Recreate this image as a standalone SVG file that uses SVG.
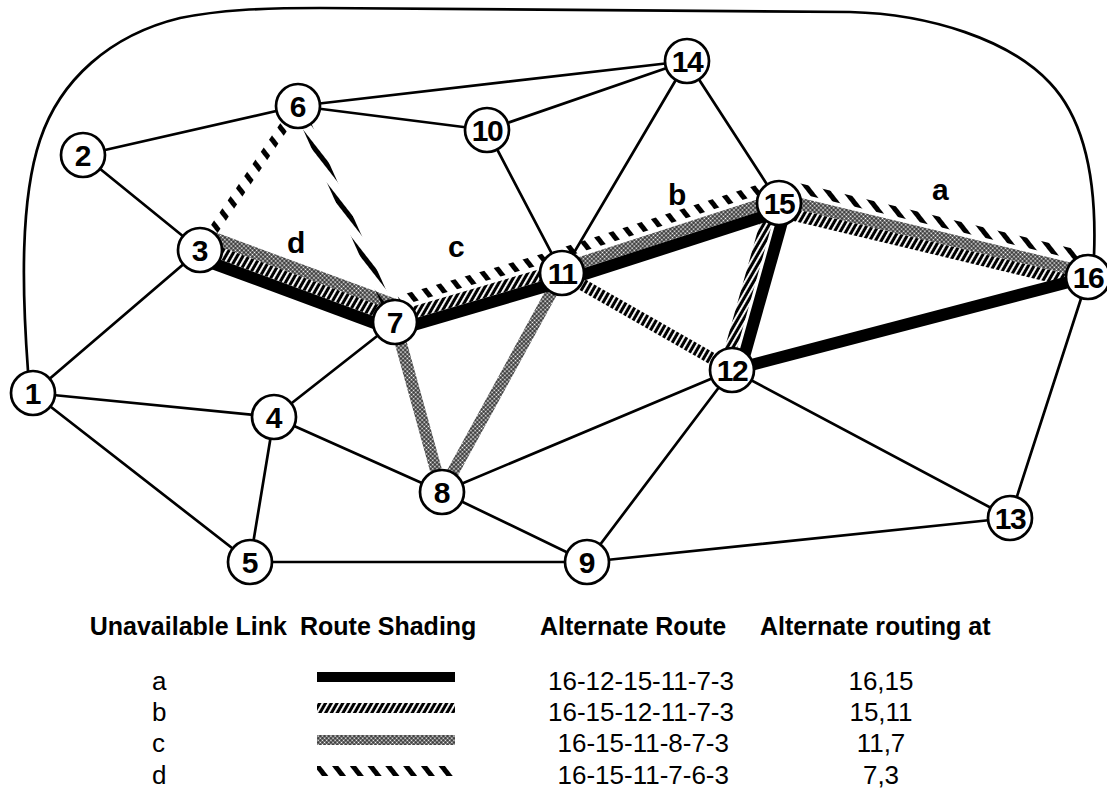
<svg xmlns="http://www.w3.org/2000/svg" width="1107" height="791" viewBox="0 0 1107 791">
<defs>
<style>
.ln{stroke:#000;stroke-width:2.7;fill:none;stroke-linecap:round}
.ra{stroke:#000;stroke-width:12}
.rb{stroke:url(#hatch);stroke-width:12}
.rc{stroke:url(#check);stroke-width:12}
.rd{stroke:url(#stripe);stroke-width:10}
.nd circle{fill:#fff;stroke:#000;stroke-width:2.7}
.nd text{font-family:'Liberation Sans',Arial,sans-serif;font-weight:bold;font-size:30px;text-anchor:middle}
.lbl{font-family:'Liberation Sans',Arial,sans-serif;font-weight:bold;font-size:30px}
.hd{font-family:'Liberation Sans',Arial,sans-serif;font-weight:bold;font-size:25px}
.tx{font-family:'Liberation Sans',Arial,sans-serif;font-size:26px}
</style>
<pattern id="hatch" patternUnits="userSpaceOnUse" width="5" height="5" patternTransform="rotate(30)">
<rect width="5" height="5" fill="#000"/>
<rect x="0" y="0" width="1.9" height="5" fill="#fff"/>
</pattern>
<pattern id="check" patternUnits="userSpaceOnUse" width="3" height="3" patternTransform="rotate(45)">
<rect width="3" height="3" fill="#000"/>
<rect x="0.5" y="0.5" width="2" height="2" fill="#fff"/>
</pattern>
<pattern id="stripe" patternUnits="userSpaceOnUse" width="14" height="14" patternTransform="rotate(-38)">
<rect width="5" height="14" fill="#000"/>
</pattern>
</defs>
<rect width="1107" height="791" fill="#fff"/>
<g id="connectors">
<path class="ln" d="M28,371 C22,290 20,200 40,140 C60,80 110,35 180,18 C220,10 260,8 320,8 L850,12 C930,14 1010,40 1050,83 C1085,120 1097,180 1094,256"/>
<line class="ln" x1="33" y1="393" x2="200" y2="250"/>
<line class="ln" x1="33" y1="393" x2="274" y2="417"/>
<line class="ln" x1="33" y1="393" x2="250" y2="562"/>
<line class="ln" x1="83" y1="155" x2="200" y2="250"/>
<line class="ln" x1="83" y1="155" x2="298" y2="106"/>
<line class="ln" x1="274" y1="417" x2="250" y2="562"/>
<line class="ln" x1="274" y1="417" x2="395" y2="322"/>
<line class="ln" x1="274" y1="417" x2="442" y2="492"/>
<line class="ln" x1="250" y1="562" x2="587" y2="562"/>
<line class="ln" x1="442" y1="492" x2="587" y2="562"/>
<line class="ln" x1="442" y1="492" x2="732" y2="370"/>
<line class="ln" x1="587" y1="562" x2="732" y2="370"/>
<line class="ln" x1="587" y1="562" x2="1010" y2="518"/>
<line class="ln" x1="732" y1="370" x2="1010" y2="518"/>
<line class="ln" x1="1010" y1="518" x2="1088" y2="277"/>
<line class="ln" x1="298" y1="106" x2="487" y2="130"/>
<line class="ln" x1="298" y1="106" x2="687" y2="61"/>
<line class="ln" x1="487" y1="130" x2="687" y2="61"/>
<line class="ln" x1="487" y1="130" x2="562" y2="273"/>
<line class="ln" x1="562" y1="273" x2="687" y2="61"/>
<line class="ln" x1="687" y1="61" x2="779" y2="203"/>
<!-- route c: 16-15-11-8-7-3 -->
<line class="rc" x1="1088.9" y1="273.1" x2="779.9" y2="199.1"/>
<line class="rc" x1="777.8" y1="199.2" x2="560.8" y2="269.2"/>
<line class="rc" x1="562" y1="273" x2="442" y2="492"/>
<line class="rc" x1="442" y1="492" x2="395" y2="322"/>
<line class="rc" x1="400.5" y1="307" x2="205.5" y2="235"/>
<!-- route b: 16-15-12-11-7-3 -->
<line class="rb" x1="1086.1" y1="284.8" x2="777.1" y2="210.8"/>
<line class="rb" x1="772.3" y1="201.1" x2="725.3" y2="368.1"/>
<line class="rb" x1="732" y1="370" x2="562" y2="273"/>
<line class="rb" x1="560.9" y1="269.2" x2="393.9" y2="318.2"/>
<line class="rb" x1="396.4" y1="318.2" x2="201.4" y2="246.2"/>
<!-- route a: 16-12-15-11-7-3 -->
<line class="ra" x1="1088" y1="277" x2="732" y2="370"/>
<line class="ra" x1="739.7" y1="372.2" x2="786.7" y2="205.2"/>
<line class="ra" x1="781.5" y1="210.6" x2="564.5" y2="280.6"/>
<line class="ra" x1="564.3" y1="280.7" x2="397.3" y2="329.7"/>
<line class="ra" x1="392.2" y1="329.5" x2="197.2" y2="257.5"/>
<!-- route d: 16-15-11-7-6-3 -->
<line class="rd" x1="1082.7" y1="256.2" x2="793.2" y2="186.9"/>
<line class="rd" x1="763.6" y1="188" x2="565.7" y2="251.8"/>
<line class="rd" x1="547" y1="257.6" x2="399.2" y2="300.9"/>
<line class="rd" x1="395" y1="322" x2="298" y2="106"/>
<line class="rd" x1="298" y1="106" x2="200" y2="250"/>
</g>
<g id="n1" class="nd"><circle cx="33" cy="393" r="22"/><text x="33" y="404">1</text></g>
<g id="n2" class="nd"><circle cx="83" cy="155" r="22"/><text x="83" y="166">2</text></g>
<g id="n3" class="nd"><circle cx="200" cy="250" r="22"/><text x="200" y="261">3</text></g>
<g id="n4" class="nd"><circle cx="274" cy="417" r="22"/><text x="274" y="428">4</text></g>
<g id="n5" class="nd"><circle cx="250" cy="562" r="22"/><text x="250" y="573">5</text></g>
<g id="n6" class="nd"><circle cx="298" cy="106" r="22"/><text x="298" y="117">6</text></g>
<g id="n7" class="nd"><circle cx="395" cy="322" r="22"/><text x="395" y="333">7</text></g>
<g id="n8" class="nd"><circle cx="442" cy="492" r="22"/><text x="442" y="503">8</text></g>
<g id="n9" class="nd"><circle cx="587" cy="562" r="22"/><text x="587" y="573">9</text></g>
<g id="n10" class="nd"><circle cx="487" cy="130" r="22"/><text x="487" y="141" letter-spacing="-1.5">10</text></g>
<g id="n11" class="nd"><circle cx="562" cy="273" r="22"/><text x="562" y="284" letter-spacing="-1.5">11</text></g>
<g id="n12" class="nd"><circle cx="732" cy="370" r="22"/><text x="732" y="381" letter-spacing="-1.5">12</text></g>
<g id="n13" class="nd"><circle cx="1010" cy="518" r="22"/><text x="1010" y="529" letter-spacing="-1.5">13</text></g>
<g id="n14" class="nd"><circle cx="687" cy="61" r="22"/><text x="687" y="72" letter-spacing="-1.5">14</text></g>
<g id="n15" class="nd"><circle cx="779" cy="203" r="22"/><text x="779" y="214" letter-spacing="-1.5">15</text></g>
<g id="n16" class="nd"><circle cx="1088" cy="277" r="22"/><text x="1088" y="288" letter-spacing="-1.5">16</text></g>
<g id="link-labels">
<text class="lbl" x="287" y="253">d</text>
<text class="lbl" x="448" y="257">c</text>
<text class="lbl" x="668" y="205">b</text>
<text class="lbl" x="932" y="200">a</text>
</g>
<g id="legend">
<text class="hd" x="287" y="635" text-anchor="end">Unavailable Link</text>
<text class="hd" x="300" y="635">Route Shading</text>
<text class="hd" x="540" y="635">Alternate Route</text>
<text class="hd" x="760" y="635">Alternate routing at</text>
<text class="tx" x="152" y="690">a</text>
<text class="tx" x="152" y="721">b</text>
<text class="tx" x="152" y="752">c</text>
<text class="tx" x="152" y="784">d</text>
<rect x="317" y="672" width="138" height="10" fill="#000"/>
<rect x="317" y="703" width="138" height="10" fill="url(#hatch)"/>
<rect x="317" y="735" width="138" height="10" fill="url(#check)"/>
<rect x="317" y="766" width="138" height="10" fill="url(#stripe)"/>
<text class="tx" x="734" y="690" text-anchor="end">16-12-15-11-7-3</text>
<text class="tx" x="734" y="721" text-anchor="end">16-15-12-11-7-3</text>
<text class="tx" x="729" y="752" text-anchor="end">16-15-11-8-7-3</text>
<text class="tx" x="729" y="784" text-anchor="end">16-15-11-7-6-3</text>
<text class="tx" x="881" y="690" text-anchor="middle">16,15</text>
<text class="tx" x="881" y="721" text-anchor="middle">15,11</text>
<text class="tx" x="881" y="752" text-anchor="middle">11,7</text>
<text class="tx" x="881" y="784" text-anchor="middle">7,3</text>
</g>
</svg>
